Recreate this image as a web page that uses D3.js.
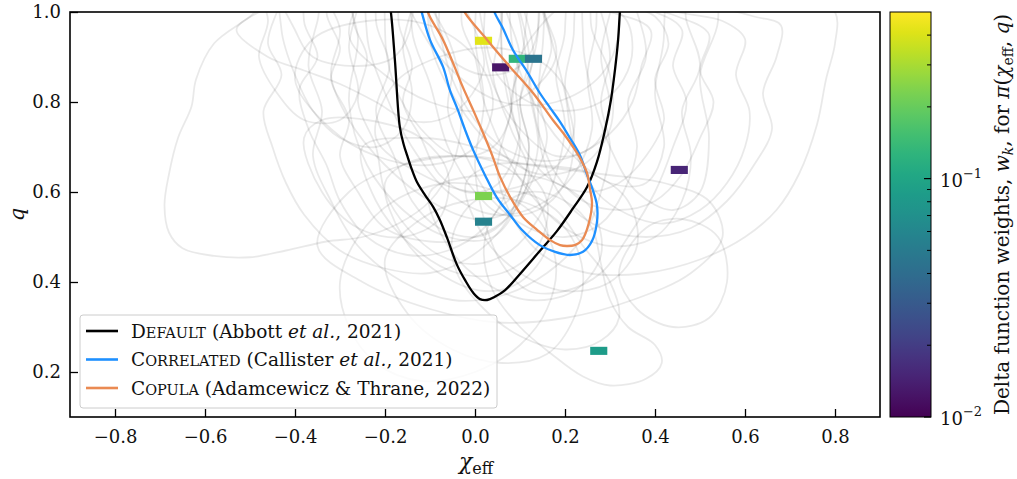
<!DOCTYPE html>
<html>
<head>
<meta charset="utf-8">
<script src="https://cdn.jsdelivr.net/npm/d3@7"></script>
<style>
  body { margin: 0; background: #fff; }
  text { font-family: "DejaVu Serif", serif; fill: #111; }
</style>
</head>
<body>
<svg id="chart" width="1017" height="479"></svg>
<script>
// ---- axis ticks ----
const chiTicks = [-0.8, -0.6, -0.4, -0.2, 0.0, 0.2, 0.4, 0.6, 0.8];
const qTicks = [0.2, 0.4, 0.6, 0.8, 1.0];
const weightMajorTicks = [0.01, 0.1];
const weightMinorTicks = [0.02, 0.03, 0.04, 0.05, 0.06, 0.07, 0.08, 0.09, 0.2, 0.3, 0.4];
const weightLabels = ["10", "10"];
const weightExponents = ["\u22122", "\u22121"];

// ---- 90% contours of the population-level models, (chi_eff, q) ----
const defaultContour = [
  [-0.191, 1.02], [-0.187, 1.0], [-0.178, 0.893], [-0.167, 0.744], [-0.158, 0.704],
  [-0.151, 0.682], [-0.140, 0.649], [-0.129, 0.622], [-0.111, 0.593], [-0.093, 0.567],
  [-0.078, 0.538], [-0.062, 0.498], [-0.040, 0.438], [-0.022, 0.404], [-0.004, 0.376],
  [0.011, 0.362], [0.027, 0.360], [0.044, 0.367], [0.067, 0.382], [0.100, 0.418],
  [0.144, 0.469], [0.182, 0.513], [0.218, 0.564], [0.249, 0.611], [0.271, 0.667],
  [0.289, 0.738], [0.302, 0.804], [0.311, 0.871], [0.318, 0.938], [0.322, 1.0], [0.324, 1.02]
];
const correlatedContour = [
  [-0.124, 1.02], [-0.118, 0.998], [-0.100, 0.938], [-0.071, 0.878], [-0.056, 0.827],
  [-0.038, 0.782], [-0.022, 0.738], [-0.004, 0.693], [0.022, 0.638], [0.049, 0.587],
  [0.078, 0.549], [0.104, 0.516], [0.144, 0.482], [0.178, 0.467], [0.211, 0.460],
  [0.240, 0.467], [0.260, 0.491], [0.271, 0.533], [0.271, 0.571], [0.262, 0.604],
  [0.249, 0.638], [0.233, 0.682], [0.211, 0.720], [0.189, 0.756], [0.167, 0.787],
  [0.144, 0.820], [0.116, 0.867], [0.084, 0.916], [0.062, 0.964], [0.044, 0.998], [0.038, 1.02]
];
const copulaContour = [
  [-0.107, 1.02], [-0.104, 0.998], [-0.071, 0.938], [-0.049, 0.887], [-0.027, 0.833],
  [-0.004, 0.782], [0.018, 0.731], [0.038, 0.682], [0.056, 0.633], [0.078, 0.589],
  [0.107, 0.544], [0.138, 0.516], [0.167, 0.493], [0.189, 0.482], [0.204, 0.480],
  [0.222, 0.482], [0.238, 0.493], [0.253, 0.531], [0.260, 0.576], [0.256, 0.604],
  [0.249, 0.642], [0.233, 0.676], [0.218, 0.700], [0.196, 0.731], [0.173, 0.760],
  [0.129, 0.820], [0.078, 0.878], [0.027, 0.938], [-0.022, 0.998], [-0.031, 1.02]
];

// ---- single-event posterior contours ----
const eventContours = [
  [[-0.42,1.06],[-0.5,0.99],[-0.58,0.93],[-0.62,0.85],[-0.63,0.79],[-0.66,0.72],[-0.68,0.64],[-0.69,0.57],[-0.68,0.51],[-0.65,0.475],[-0.58,0.458],[-0.5,0.455],[-0.42,0.47],[-0.33,0.49],[-0.25,0.5],[-0.17,0.53],[-0.1,0.58],[-0.05,0.66],[-0.03,0.76],[-0.04,0.88],[-0.08,0.98],[-0.15,1.06]],
  [[-0.53,0.96],[-0.46,0.9],[-0.38,0.87],[-0.3,0.84],[-0.22,0.8],[-0.15,0.76],[-0.08,0.76],[-0.02,0.8],[0.02,0.88],[0.0,0.96],[-0.05,1.04],[-0.2,1.06],[-0.38,1.04],[-0.48,1.0]],
  [[-0.40,1.08],[-0.44,1.0],[-0.46,0.93],[-0.43,0.86],[-0.47,0.78],[-0.45,0.7],[-0.42,0.62],[-0.38,0.55],[-0.3,0.47],[-0.2,0.43],[-0.1,0.42],[-0.02,0.45],[0.06,0.52],[0.1,0.6],[0.12,0.7],[0.1,0.8],[0.13,0.9],[0.11,1.0],[0.08,1.08]],
  [[-0.36,1.08],[-0.38,0.98],[-0.35,0.9],[-0.39,0.83],[-0.37,0.74],[-0.33,0.66],[-0.3,0.58],[-0.24,0.5],[-0.15,0.46],[-0.06,0.47],[0.02,0.52],[0.07,0.6],[0.1,0.7],[0.08,0.8],[0.1,0.9],[0.07,1.0],[0.05,1.08]],
  [[-0.3,1.08],[-0.33,1.0],[-0.3,0.92],[-0.32,0.85],[-0.28,0.76],[-0.3,0.68],[-0.26,0.6],[-0.2,0.52],[-0.1,0.49],[0.0,0.5],[0.08,0.55],[0.13,0.63],[0.16,0.72],[0.14,0.82],[0.17,0.92],[0.15,1.0],[0.12,1.08]],
  [[-0.25,1.08],[-0.27,0.98],[-0.24,0.9],[-0.26,0.8],[-0.22,0.7],[-0.2,0.6],[-0.15,0.52],[-0.08,0.46],[0.0,0.44],[0.08,0.47],[0.14,0.54],[0.18,0.64],[0.2,0.75],[0.18,0.86],[0.2,0.96],[0.18,1.08]],
  [[-0.2,1.08],[-0.22,0.98],[-0.19,0.88],[-0.22,0.78],[-0.18,0.68],[-0.14,0.58],[-0.08,0.52],[0.0,0.5],[0.06,0.53],[0.1,0.6],[0.12,0.7],[0.1,0.8],[0.12,0.9],[0.1,1.0],[0.08,1.08]],
  [[-0.32,1.08],[-0.35,0.98],[-0.37,0.88],[-0.34,0.78],[-0.36,0.68],[-0.32,0.58],[-0.26,0.48],[-0.16,0.4],[-0.05,0.36],[0.06,0.37],[0.16,0.42],[0.24,0.5],[0.28,0.6],[0.3,0.7],[0.28,0.8],[0.3,0.9],[0.28,1.0],[0.25,1.08]],
  [[-0.15,1.08],[-0.17,0.98],[-0.14,0.88],[-0.16,0.8],[-0.12,0.72],[-0.08,0.64],[-0.02,0.6],[0.04,0.61],[0.08,0.66],[0.1,0.74],[0.09,0.84],[0.11,0.94],[0.1,1.08]],
  [[-0.05,1.08],[-0.08,0.98],[-0.05,0.88],[-0.06,0.78],[-0.02,0.68],[0.04,0.58],[0.12,0.52],[0.2,0.5],[0.28,0.53],[0.33,0.6],[0.36,0.7],[0.34,0.8],[0.38,0.9],[0.36,1.0],[0.33,1.08]],
  [[0.0,1.08],[-0.03,0.98],[0.0,0.9],[0.02,0.8],[0.06,0.7],[0.12,0.6],[0.2,0.52],[0.3,0.48],[0.4,0.5],[0.46,0.58],[0.48,0.68],[0.46,0.78],[0.5,0.88],[0.47,0.98],[0.45,1.08]],
  [[0.6,1.08],[0.72,1.05],[0.8,1.0],[0.8,0.93],[0.78,0.85],[0.76,0.75],[0.72,0.64],[0.67,0.56],[0.6,0.5],[0.5,0.45],[0.38,0.42],[0.25,0.42],[0.15,0.46],[0.08,0.55],[0.05,0.65],[0.08,0.78],[0.1,0.9],[0.2,1.02],[0.35,1.08]],
  [[0.2,1.08],[0.35,1.06],[0.5,1.02],[0.62,0.99],[0.68,0.97],[0.67,0.9],[0.64,0.82],[0.66,0.74],[0.62,0.66],[0.56,0.58],[0.48,0.52],[0.38,0.5],[0.28,0.52],[0.2,0.58],[0.15,0.68],[0.14,0.8],[0.15,0.92],[0.17,1.08]],
  [[0.15,1.08],[0.3,1.05],[0.45,1.0],[0.55,0.98],[0.6,0.94],[0.58,0.86],[0.61,0.78],[0.6,0.7],[0.56,0.62],[0.5,0.56],[0.42,0.53],[0.34,0.55],[0.27,0.6],[0.22,0.7],[0.2,0.82],[0.17,0.94],[0.14,1.08]],
  [[0.1,1.08],[0.3,1.03],[0.45,0.99],[0.52,0.95],[0.5,0.87],[0.53,0.8],[0.5,0.72],[0.46,0.64],[0.4,0.58],[0.32,0.56],[0.24,0.58],[0.18,0.64],[0.14,0.74],[0.12,0.86],[0.1,0.98],[0.08,1.08]],
  [[0.05,1.08],[0.25,1.03],[0.4,1.0],[0.46,0.96],[0.44,0.88],[0.47,0.8],[0.44,0.7],[0.4,0.6],[0.34,0.5],[0.28,0.42],[0.2,0.38],[0.12,0.38],[0.06,0.44],[0.02,0.54],[0.0,0.66],[0.02,0.8],[0.0,0.95],[0.02,1.08]],
  [[0.1,1.08],[0.3,1.02],[0.4,0.99],[0.43,0.93],[0.4,0.85],[0.42,0.76],[0.38,0.68],[0.32,0.62],[0.25,0.6],[0.18,0.62],[0.12,0.68],[0.08,0.78],[0.06,0.9],[0.07,1.08]],
  [[-0.1,1.08],[0.1,1.04],[0.3,1.0],[0.39,0.96],[0.37,0.88],[0.35,0.8],[0.3,0.73],[0.22,0.68],[0.14,0.67],[0.06,0.7],[0.0,0.76],[-0.05,0.85],[-0.08,0.96],[-0.1,1.08]],
  [[0.0,1.08],[0.2,1.03],[0.33,0.99],[0.35,0.92],[0.33,0.85],[0.28,0.8],[0.2,0.78],[0.12,0.8],[0.05,0.86],[0.02,0.95],[0.0,1.08]],
  [[0.3,0.17],[0.38,0.185],[0.415,0.22],[0.4,0.26],[0.34,0.3],[0.3,0.36],[0.28,0.44],[0.26,0.52],[0.2,0.58],[0.12,0.6],[0.05,0.56],[0.02,0.48],[0.04,0.38],[0.1,0.3],[0.17,0.24],[0.24,0.19]],
  [[0.2,0.25],[0.28,0.27],[0.32,0.32],[0.3,0.4],[0.24,0.48],[0.18,0.56],[0.1,0.6],[0.0,0.58],[-0.05,0.5],[-0.04,0.42],[0.02,0.34],[0.1,0.28]],
  [[-0.35,0.48],[-0.25,0.4],[-0.1,0.34],[0.05,0.31],[0.2,0.32],[0.35,0.36],[0.48,0.42],[0.55,0.5],[0.52,0.58],[0.42,0.62],[0.28,0.64],[0.12,0.66],[-0.02,0.68],[-0.16,0.66],[-0.28,0.6]],
  [[-0.3,0.4],[-0.28,0.3],[-0.22,0.22],[-0.12,0.18],[0.0,0.2],[0.1,0.26],[0.16,0.34],[0.18,0.44],[0.14,0.54],[0.05,0.6],[-0.06,0.62],[-0.18,0.58],[-0.26,0.5]],
  [[-0.2,0.45],[-0.15,0.33],[-0.05,0.25],[0.06,0.22],[0.16,0.24],[0.22,0.32],[0.24,0.42],[0.2,0.52],[0.1,0.58],[-0.02,0.58],[-0.12,0.54]],
  [[-0.28,0.95],[-0.2,0.86],[-0.1,0.8],[0.02,0.78],[0.12,0.82],[0.18,0.9],[0.16,0.98],[0.1,1.08],[-0.2,1.08]],
  [[-0.22,0.72],[-0.12,0.64],[0.0,0.6],[0.12,0.62],[0.2,0.68],[0.22,0.78],[0.16,0.88],[0.05,0.92],[-0.08,0.9],[-0.18,0.84]],
  [[-0.4,0.85],[-0.32,0.74],[-0.22,0.68],[-0.1,0.66],[0.0,0.7],[0.04,0.8],[0.0,0.9],[-0.1,0.97],[-0.24,0.98],[-0.36,0.94]],
  [[-0.18,1.08],[-0.2,0.96],[-0.18,0.84],[-0.12,0.74],[-0.04,0.68],[0.04,0.7],[0.08,0.78],[0.06,0.9],[0.04,1.08]],
  [[-0.12,1.08],[-0.14,0.96],[-0.1,0.84],[-0.06,0.7],[0.0,0.6],[0.06,0.55],[0.14,0.56],[0.2,0.62],[0.22,0.72],[0.2,0.84],[0.22,0.96],[0.2,1.08]],
  [[-0.42,1.08],[-0.43,0.96],[-0.4,0.86],[-0.36,0.78],[-0.3,0.72],[-0.22,0.7],[-0.16,0.74],[-0.14,0.82],[-0.16,0.92],[-0.14,1.08]],
  [[-0.48,1.08],[-0.46,0.98],[-0.48,0.9],[-0.44,0.82],[-0.38,0.76],[-0.3,0.76],[-0.26,0.82],[-0.28,0.92],[-0.26,1.08]],
  [[-0.25,0.7],[-0.22,0.58],[-0.14,0.48],[-0.04,0.42],[0.06,0.42],[0.14,0.48],[0.16,0.58],[0.1,0.66],[0.0,0.7],[-0.12,0.72]],
  [[-0.1,0.6],[-0.06,0.48],[0.02,0.4],[0.12,0.36],[0.22,0.38],[0.28,0.46],[0.26,0.56],[0.18,0.62],[0.06,0.64]],
  [[0.05,1.08],[0.02,0.96],[0.04,0.84],[0.1,0.74],[0.18,0.68],[0.26,0.7],[0.3,0.78],[0.28,0.9],[0.3,1.08]],
  [[-0.08,1.08],[-0.1,0.98],[-0.06,0.9],[0.02,0.86],[0.1,0.88],[0.14,0.96],[0.12,1.08]],
  [[-0.22,1.08],[-0.24,0.95],[-0.2,0.82],[-0.14,0.7],[-0.06,0.6],[0.04,0.55],[0.14,0.57],[0.22,0.64],[0.26,0.74],[0.25,0.86],[0.27,0.98],[0.25,1.08]],
  [[-0.34,1.08],[-0.3,0.96],[-0.32,0.86],[-0.28,0.76],[-0.2,0.66],[-0.1,0.58],[0.0,0.54],[0.08,0.56],[0.12,0.64],[0.08,0.74],[0.04,0.86],[0.06,0.98],[0.04,1.08]],
  [[-0.16,1.08],[-0.12,0.96],[-0.04,0.86],[0.06,0.8],[0.18,0.8],[0.28,0.86],[0.32,0.96],[0.3,1.08]],
  [[0.1,1.08],[0.08,0.95],[0.12,0.82],[0.2,0.7],[0.3,0.62],[0.38,0.62],[0.42,0.7],[0.4,0.82],[0.42,0.95],[0.4,1.08]],
  [[-0.28,1.08],[-0.26,0.94],[-0.28,0.8],[-0.24,0.66],[-0.16,0.56],[-0.06,0.5],[0.04,0.5],[0.1,0.58],[0.14,0.7],[0.12,0.84],[0.14,0.96],[0.12,1.08]],
  [[-0.08,1.08],[-0.1,0.94],[-0.04,0.8],[0.04,0.7],[0.14,0.64],[0.24,0.66],[0.3,0.74],[0.3,0.86],[0.26,0.96],[0.24,1.08]],
  [[-0.44,1.08],[-0.4,0.96],[-0.36,0.9],[-0.26,0.88],[-0.18,0.9],[-0.14,0.98],[-0.16,1.08]],
  [[-0.2,0.62],[-0.16,0.5],[-0.08,0.42],[0.02,0.38],[0.1,0.4],[0.16,0.48],[0.14,0.58],[0.06,0.66],[-0.06,0.68],[-0.16,0.66]],
  [[0.26,1.08],[0.24,0.94],[0.26,0.82],[0.3,0.7],[0.36,0.6],[0.44,0.56],[0.5,0.6],[0.52,0.72],[0.5,0.86],[0.54,0.98],[0.52,1.08]],
  [[-0.02,0.62],[0.02,0.5],[0.1,0.42],[0.2,0.38],[0.3,0.4],[0.36,0.48],[0.34,0.58],[0.26,0.64],[0.14,0.66],[0.04,0.66]],
  [[-0.38,0.72],[-0.34,0.6],[-0.26,0.52],[-0.16,0.5],[-0.08,0.54],[-0.06,0.64],[-0.12,0.72],[-0.24,0.76],[-0.34,0.76]],
  [[0.32,0.42],[0.36,0.34],[0.44,0.3],[0.52,0.32],[0.56,0.4],[0.54,0.5],[0.46,0.54],[0.38,0.52]]
];

// ---- delta-function components of the non-parametric model ----
const deltaChi = [0.019, 0.094, 0.130, 0.057, 0.454, 0.019, 0.019, 0.275];
const deltaQ = [0.936, 0.896, 0.896, 0.877, 0.649, 0.591, 0.534, 0.247];
const deltaWeight = [0.42, 0.13, 0.045, 0.0125, 0.015, 0.23, 0.056, 0.085];

// ---- legend ----
const modelNames = ["Default", "Correlated", "Copula"];
const modelRefs = [["Abbott ", "et al.", ", 2021)"], ["Callister ", "et al.", ", 2021)"], ["Adamcewicz & Thrane, 2022)", "", ""]];
const modelColors = ["#000000", "#1e90ff", "#ea8a52"];

// ------------------------------------------------------------
const svg = d3.select("#chart");
const plot = { left: 70, right: 880, top: 12, bottom: 417 };
const cbar = { left: 890, right: 931, top: 12, bottom: 417 };

const x = d3.scaleLinear().domain([-0.9, 0.9]).range([plot.left, plot.right]);
const y = d3.scaleLinear().domain([0.1, 1.0]).range([plot.bottom, plot.top]);
const wScale = d3.scaleLog().domain([0.01, 0.5]).range([cbar.bottom, cbar.top]);
const wNorm = d3.scaleLog().domain([0.01, 0.5]).range([0, 1]).clamp(true);
const wColor = w => d3.interpolateViridis(wNorm(w));

const defs = svg.append("defs");
defs.append("clipPath").attr("id", "plotClip")
  .append("rect")
  .attr("x", plot.left).attr("y", plot.top)
  .attr("width", plot.right - plot.left).attr("height", plot.bottom - plot.top);

const grad = defs.append("linearGradient").attr("id", "viridis")
  .attr("x1", 0).attr("y1", 1).attr("x2", 0).attr("y2", 0);
d3.range(0, 1.0001, 0.05).forEach(t => {
  grad.append("stop").attr("offset", t).attr("stop-color", d3.interpolateViridis(t));
});

const closedLine = d3.line().x(d => x(d[0])).y(d => y(d[1])).curve(d3.curveCatmullRomClosed.alpha(0.5));
const smoothLine = d3.line().x(d => x(d[0])).y(d => y(d[1])).curve(d3.curveCatmullRom.alpha(0.5));

const gPlot = svg.append("g").attr("clip-path", "url(#plotClip)");

// faint event contours
gPlot.append("g").selectAll("path").data(eventContours).join("path")
  .attr("d", closedLine)
  .attr("fill", "none")
  .attr("stroke", "#000")
  .attr("stroke-opacity", 0.085)
  .attr("stroke-width", 1.8)
  .attr("stroke-linejoin", "round");

// delta-function cells
const cellW = 0.038, cellH = 0.018;
gPlot.append("g").selectAll("rect").data(deltaChi).join("rect")
  .attr("x", (d, i) => x(d - cellW / 2))
  .attr("y", (d, i) => y(deltaQ[i] + cellH / 2))
  .attr("width", x(cellW) - x(0))
  .attr("height", y(0) - y(cellH))
  .attr("fill", (d, i) => wColor(deltaWeight[i]));

// population contours
[defaultContour, correlatedContour, copulaContour].forEach((c, i) => {
  gPlot.append("path").datum(c)
    .attr("d", smoothLine)
    .attr("fill", "none")
    .attr("stroke", modelColors[i])
    .attr("stroke-width", 2.3)
    .attr("stroke-linejoin", "round");
});

// axes
const xAxis = d3.axisBottom(x).tickValues(chiTicks).tickFormat(d3.format(".1f"))
  .tickSizeInner(-8).tickSizeOuter(0).tickPadding(13);
const yAxis = d3.axisLeft(y).tickValues(qTicks).tickFormat(d3.format(".1f"))
  .tickSizeInner(-8).tickSizeOuter(0).tickPadding(9);

const gx = svg.append("g").attr("transform", `translate(0,${plot.bottom})`).call(xAxis);
const gy = svg.append("g").attr("transform", `translate(${plot.left},0)`).call(yAxis);
[gx, gy].forEach(g => {
  g.select(".domain").remove();
  g.selectAll(".tick line").attr("stroke", "#000").attr("stroke-width", 1.3);
  g.selectAll(".tick text").attr("font-family", "DejaVu Serif").attr("font-size", 18).attr("fill", "#111");
});

// frame
svg.append("rect")
  .attr("x", plot.left).attr("y", plot.top)
  .attr("width", plot.right - plot.left).attr("height", plot.bottom - plot.top)
  .attr("fill", "none").attr("stroke", "#000").attr("stroke-width", 1.6);

// axis labels
const xl = svg.append("text")
  .attr("x", 476).attr("y", 469)
  .attr("text-anchor", "middle").attr("font-size", 22);
xl.append("tspan").attr("font-style", "italic").text("\u03c7");
xl.append("tspan").attr("font-size", 16).attr("dy", 5).text("eff");

svg.append("text")
  .attr("transform", `translate(24,${(plot.top + plot.bottom) / 2}) rotate(-90)`)
  .attr("text-anchor", "middle").attr("font-size", 21).attr("font-style", "italic")
  .text("q");

// legend
const lg = svg.append("g");
lg.append("rect")
  .attr("x", 80).attr("y", 315).attr("width", 417).attr("height", 93)
  .attr("rx", 3).attr("fill", "#fff").attr("fill-opacity", 0.8)
  .attr("stroke", "#cccccc").attr("stroke-width", 1);
modelNames.forEach((name, i) => {
  const yy = 331 + i * 28.5;
  lg.append("line")
    .attr("x1", 86).attr("x2", 118).attr("y1", yy).attr("y2", yy)
    .attr("stroke", modelColors[i]).attr("stroke-width", 2.6);
  const t = lg.append("text").attr("x", 131).attr("y", yy + 6.5).attr("font-size", 18.5);
  // small capitals: full-size initial, reduced capitals for the rest
  t.append("tspan").text(name[0].toUpperCase());
  t.append("tspan").attr("font-size", 14.5).text(name.slice(1).toUpperCase());
  t.append("tspan").text(" (" + modelRefs[i][0]);
  if (modelRefs[i][1]) t.append("tspan").attr("font-style", "italic").text(modelRefs[i][1]);
  if (modelRefs[i][2]) t.append("tspan").text(modelRefs[i][2]);
});

// colourbar
svg.append("rect")
  .attr("x", cbar.left).attr("y", cbar.top)
  .attr("width", cbar.right - cbar.left).attr("height", cbar.bottom - cbar.top)
  .attr("fill", "url(#viridis)").attr("stroke", "#000").attr("stroke-width", 1);

const cg = svg.append("g");
cg.selectAll("line.minor").data(weightMinorTicks).join("line")
  .attr("class", "minor")
  .attr("x1", cbar.right - 4).attr("x2", cbar.right)
  .attr("y1", d => wScale(d)).attr("y2", d => wScale(d))
  .attr("stroke", "#000").attr("stroke-width", 1);
cg.selectAll("line.major").data(weightMajorTicks).join("line")
  .attr("class", "major")
  .attr("x1", cbar.right - 7).attr("x2", cbar.right)
  .attr("y1", d => wScale(d)).attr("y2", d => wScale(d))
  .attr("stroke", "#000").attr("stroke-width", 1.2);
weightMajorTicks.forEach((w, i) => {
  const t = cg.append("text").attr("x", 940).attr("y", wScale(w) + 8).attr("font-size", 18);
  t.append("tspan").text(weightLabels[i]);
  t.append("tspan").attr("font-size", 13).attr("dy", -9).text(weightExponents[i]);
});

const cl = svg.append("text")
  .attr("transform", `translate(1009,${(cbar.top + cbar.bottom) / 2}) rotate(-90)`)
  .attr("text-anchor", "middle").attr("font-size", 20);
cl.append("tspan").text("Delta function weights, ");
cl.append("tspan").attr("font-style", "italic").text("w");
cl.append("tspan").attr("font-style", "italic").attr("font-size", 14).attr("dy", 4).text("k");
cl.append("tspan").attr("dy", -4).text(", for ");
cl.append("tspan").attr("font-style", "italic").text("\u03c0");
cl.append("tspan").text("(");
cl.append("tspan").attr("font-style", "italic").text("\u03c7");
cl.append("tspan").attr("font-size", 14).attr("dy", 4).text("eff");
cl.append("tspan").attr("dy", -4).text(", ");
cl.append("tspan").attr("font-style", "italic").text("q");
cl.append("tspan").text(")");
</script>
</body>
</html>
